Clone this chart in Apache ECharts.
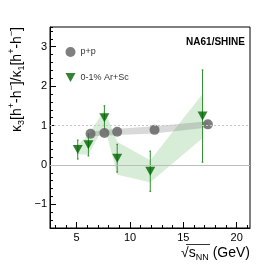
<!DOCTYPE html>
<html><head><meta charset="utf-8">
<script src="https://cdn.jsdelivr.net/npm/echarts@6/dist/echarts.min.js"></script>
<style>html,body{margin:0;padding:0;background:#fff}#c{width:278px;height:268px}</style>
</head><body><div id="c"></div>
<script>
// ---- data ----
const ppEnergy   = [6.3, 7.6, 8.8, 12.3, 17.3];
const ppValue    = [0.79, 0.81, 0.84, 0.89, 1.03];
const ppSys      = [0.06, 0.07, 0.08, 0.09, 0.08];

const arscEnergy = [5.1, 6.1, 7.6, 8.8, 11.9, 16.8];
const arscValue  = [0.39, 0.51, 1.20, 0.17, -0.16, 1.24];
const arscStat   = [0.24, 0.28, 0.30, 0.35, 0.51, 1.17];
const arscSys    = [0.12, 0.25, 0.20, 0.42, 0.28, 0.56];

const refLines   = [0, 1];
const seriesNames = ['p+p', '0-1% Ar+Sc'];

const FONT = 'Liberation Sans, Arial, sans-serif';
const TRI = 'path://M0,0L10,0L5,9Z';

function bandSeries(xs, ys, sys, color, z) {
  return {
    type: 'custom', xAxisIndex: 0, yAxisIndex: 0, silent: true, z: z,
    data: xs.map((x, i) => [x, ys[i] - sys[i], ys[i] + sys[i]]),
    renderItem: function (params, api) {
      if (params.dataIndex !== 0) return null;
      const pts = [];
      for (let i = 0; i < xs.length; i++) pts.push(api.coord([xs[i], ys[i] + sys[i]]));
      for (let i = xs.length - 1; i >= 0; i--) pts.push(api.coord([xs[i], ys[i] - sys[i]]));
      return { type: 'polygon', shape: { points: pts }, style: { fill: color } };
    }
  };
}

function errSeries(xs, ys, err, color) {
  return {
    type: 'custom', xAxisIndex: 0, yAxisIndex: 0, silent: true, z: 3,
    data: xs.map((x, i) => [x, ys[i] - err[i], ys[i] + err[i]]),
    renderItem: function (params, api) {
      const a = api.coord([api.value(0), api.value(1)]);
      const b = api.coord([api.value(0), api.value(2)]);
      return { type: 'group', children: [
        { type: 'line', shape: { x1: a[0], y1: a[1], x2: b[0], y2: b[1] }, style: { stroke: color, lineWidth: 1 } },
        { type: 'line', shape: { x1: a[0]-0.8, y1: a[1], x2: a[0]+0.8, y2: a[1] }, style: { stroke: color, lineWidth: 1.2 } },
        { type: 'line', shape: { x1: b[0]-0.8, y1: b[1], x2: b[0]+0.8, y2: b[1] }, style: { stroke: color, lineWidth: 1.2 } }
      ]};
    }
  };
}

const chart = echarts.init(document.getElementById('c'), null, { renderer: 'canvas' });
chart.setOption({
  animation: false,
  backgroundColor: '#fff',
  textStyle: { fontFamily: FONT },
  grid: [
    { left: 50, right: 28, top: 27, bottom: 40, show: true, borderColor: '#000', borderWidth: 1, containLabel: false },
    { left: 55.33, width: 192, top: 27, bottom: 40, show: false, containLabel: false }
  ],
  xAxis: [
    { type: 'value', gridIndex: 0, min: 2.5, max: 21.25, splitNumber: 4,
      axisLine: { onZero: false, lineStyle: { color: '#000', width: 1 } },
      axisTick: { inside: true, length: 6, lineStyle: { color: '#000' } },
      axisLabel: { fontSize: 11, color: '#000', margin: 4, fontFamily: FONT, showMinLabel: false, showMaxLabel: false },
      splitLine: { show: false } },
    { type: 'value', gridIndex: 1, min: 3, max: 21, interval: 1,
      axisLine: { show: false, onZero: false },
      axisTick: { inside: true, length: 3, lineStyle: { color: '#000' } },
      axisLabel: { show: false }, splitLine: { show: false } }
  ],
  yAxis: [
    { type: 'value', gridIndex: 0, position: 'left', min: -1.6, max: 3.5, splitNumber: 5,
      axisLine: { show: true, onZero: false, lineStyle: { color: '#000', width: 1 } },
      axisTick: { show: true, inside: true, length: 6, lineStyle: { color: '#000' } },
      axisLabel: { fontSize: 11, color: '#000', margin: 3, fontFamily: FONT, showMinLabel: false, showMaxLabel: false,
        formatter: v => (v < 0 ? '\u2212' + Math.abs(v) : String(v)) },
      splitLine: { show: false } },
    { type: 'value', gridIndex: 0, position: 'left', offset: 0, min: -1.6, max: 3.5, interval: 0.2,
      axisLine: { show: false, onZero: false },
      axisTick: { show: true, inside: true, length: 3, lineStyle: { color: '#000' } },
      axisLabel: { show: false }, splitLine: { show: false } },
    { type: 'value', gridIndex: 1, show: false, min: -1.6, max: 3.5 }
  ],
  legend: {
    orient: 'vertical', left: 60.5, top: 42, itemWidth: 10, itemHeight: 10, itemGap: 16,
    textStyle: { fontSize: 9, color: '#333', fontFamily: FONT },
    data: [ { name: seriesNames[0], icon: 'circle' }, { name: seriesNames[1], icon: TRI } ],
    selectedMode: false
  },
  series: [
    Object.assign(bandSeries(arscEnergy, arscValue, arscSys, 'rgba(40,160,40,0.19)', 1), {
      markLine: { silent: true, symbol: 'none', label: { show: false },
        data: [
          { yAxis: refLines[0], lineStyle: { color: '#bdbdbd', type: 'solid', width: 1 } },
          { yAxis: refLines[1], lineStyle: { color: '#c8c8c8', type: [2, 2], width: 1 } }
        ] } }),
    bandSeries(ppEnergy, ppValue, ppSys, 'rgba(120,120,120,0.28)', 2),
    errSeries(arscEnergy, arscValue, arscStat, '#2f8f2f'),
    { name: seriesNames[0], type: 'scatter', xAxisIndex: 0, yAxisIndex: 0, z: 4,
      symbol: 'circle', symbolSize: 10, itemStyle: { color: '#5f5f5f' },
      data: ppEnergy.map((x, i) => [x, ppValue[i]]) },
    { name: seriesNames[1], type: 'scatter', xAxisIndex: 0, yAxisIndex: 0, z: 5,
      symbol: TRI, symbolSize: [10, 9], itemStyle: { color: '#006400' },
      data: arscEnergy.map((x, i) => [x, arscValue[i]]) }
  ],
  graphic: [
    { type: 'text', x: 245, y: 42, z: 10,
      style: { text: 'NA61/SHINE', fontSize: 10, fontWeight: 'bold', fontFamily: FONT, fill: '#000', align: 'right', verticalAlign: 'middle' } },
    { type: 'text', x: 17, y: 27, rotation: Math.PI / 2, z: 10,
      style: { text: '\u03ba{sub|3}[h{sup|+}-h{sup|\u2212}]/\u03ba{sub|1}[h{sup|+}-h{sup|\u2212}]',
        fontSize: 14, fontFamily: FONT, fill: '#000', align: 'right', verticalAlign: 'middle', lineHeight: 20,
        rich: {
          sub: { fontSize: 9, fontFamily: FONT, verticalAlign: 'bottom', lineHeight: 9, padding: [0, 0, 1, 0] },
          sup: { fontSize: 9, fontFamily: FONT, verticalAlign: 'top', lineHeight: 9 }
        } } },
    { type: 'text', x: 250, y: 253, z: 10,
      style: { text: '\u221a{s|s}{sub|NN} (GeV)', fontSize: 14, fontFamily: FONT, fill: '#000',
        align: 'right', verticalAlign: 'middle', lineHeight: 20,
        rich: {
          s: { fontSize: 14, fontFamily: FONT, lineHeight: 20 },
          sub: { fontSize: 9, fontFamily: FONT, verticalAlign: 'bottom', lineHeight: 9, padding: [0, 0, 1, 0] }
        } } },
    { type: 'line', z: 10, shape: { x1: 186, y1: 244.5, x2: 210, y2: 244.5 }, style: { stroke: '#000', lineWidth: 0.8 } }
  ]
});
</script>
</body></html>
